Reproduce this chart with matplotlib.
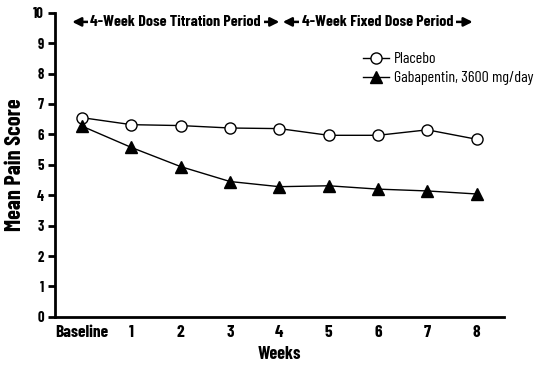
import numpy as np
import matplotlib
matplotlib.use("Agg")
import matplotlib.pyplot as plt

plt.rcParams['font.family'] = ['Barlow Condensed', 'Archivo Narrow', 'DejaVu Sans']

weeks = ["Baseline", "1", "2", "3", "4", "5", "6", "7", "8"]
placebo = [6.55, 6.32, 6.29, 6.21, 6.19, 5.97, 5.97, 6.15, 5.84]
gabapentin = [6.27, 5.57, 4.94, 4.45, 4.28, 4.31, 4.20, 4.14, 4.04]
periods = ["4-Week Dose Titration Period", "4-Week Fixed Dose Period"]
period_spans = [(-0.2, 4.0), (4.07, 7.92)]

fig = plt.figure(figsize=(5.44, 3.65), dpi=100)
ax = fig.add_axes([0.101, 0.132, 0.825, 0.833])
x = np.arange(len(weeks))

ax.plot(x, placebo, "-o", color="black", lw=1.0, ms=8, mfc="white", mec="black", mew=1.0,
        label="Placebo", zorder=3)
ax.plot(x, gabapentin, "-^", color="black", lw=1.0, ms=9, mfc="black", mec="black",
        label="Gabapentin, 3600 mg/day", zorder=3)

ax.set_xlim(-0.55, 8.55)
ax.set_ylim(0, 10)
ax.set_yticks(range(0, 11))
ax.set_xticks(x)
ax.set_xticklabels(weeks, fontsize=12.5, fontweight="bold")
for lab in ax.get_yticklabels():
    lab.set_fontweight("bold")
    lab.set_fontsize(10.5)
ax.tick_params(axis="y", direction="out", length=5, width=2, pad=3)
ax.tick_params(axis="x", length=0, pad=6)
for sp in ["top", "right"]:
    ax.spines[sp].set_visible(False)
for sp in ["left", "bottom"]:
    ax.spines[sp].set_linewidth(2)
    ax.spines[sp].set_zorder(5)

ax.set_xlabel("Weeks", fontsize=13, fontweight="bold", labelpad=4)
ax.set_ylabel("Mean Pain Score", fontsize=16, fontweight="bold", labelpad=6)

for name, (a, b) in zip(periods, period_spans):
    ax.annotate("", xy=(a, 9.7), xytext=(b, 9.7),
                arrowprops=dict(arrowstyle="<|-|>", color="black", lw=1.8,
                                mutation_scale=13, shrinkA=0, shrinkB=0))
    ax.text((a + b) / 2, 9.7, name, ha="center", va="center", fontsize=11.5,
            fontweight="bold", bbox=dict(facecolor="white", edgecolor="none", pad=2))

leg = ax.legend(loc="upper left", bbox_to_anchor=(0.673, 0.892), frameon=False,
                fontsize=11.5, handlelength=1.6, handletextpad=0.3, labelspacing=0.3,
                borderaxespad=0)

fig.savefig("out.png", dpi=100)
